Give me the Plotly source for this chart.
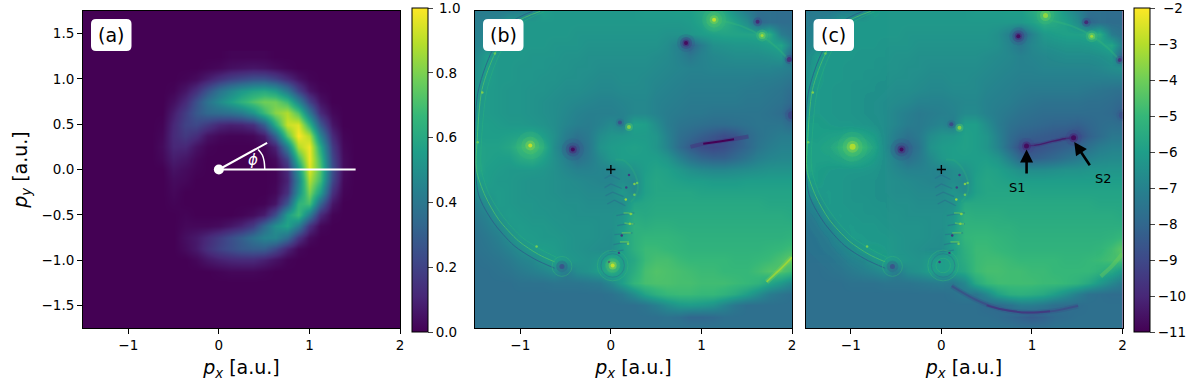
import plotly.graph_objects as go

# ---------- data ----------
a_x = [-0.75,-0.625,-0.5,-0.375,-0.25,-0.125,0,0.125,0.25,0.375,0.5,0.625,0.75,0.875,1,1.125,1.25,1.375,1.5]
a_y = [1.25,1.125,1,0.875,0.75,0.625,0.5,0.375,0.25,0.125,0,-0.125,-0.25,-0.375,-0.5,-0.625,-0.75,-0.875,-1,-1.125,-1.25]
a_z = [
[0,0,0,0,0,0,0,.01,.01,.01,.01,0,0,0,0,0,0,0,0],
[0,0,0,0,0,.01,.02,.04,.05,.06,.05,.03,.01,0,0,0,0,0,0],
[0,0,0,.01,.03,.08,.14,.19,.22,.25,.25,.2,.12,.05,.01,0,0,0,0],
[0,0,.01,.06,.14,.26,.38,.46,.53,.58,.6,.55,.4,.2,.06,.01,0,0,0],
[0,0,.04,.12,.25,.38,.48,.56,.64,.72,.78,.78,.68,.45,.2,.05,0,0,0],
[0,0,.08,.18,.28,.34,.36,.38,.42,.52,.68,.82,.88,.72,.4,.12,.02,0,0],
[0,.01,.11,.2,.22,.17,.11,.09,.1,.14,.3,.62,.92,.95,.65,.28,.06,0,0],
[0,.02,.12,.17,.13,.05,.02,.01,.01,.02,.08,.32,.74,1,.88,.45,.12,.01,0],
[0,.03,.11,.11,.05,.01,0,0,0,0,.01,.1,.44,.88,.98,.6,.18,.02,0],
[0,.02,.08,.06,.02,0,0,0,0,0,0,.03,.22,.68,.98,.68,.22,.03,0],
[0,0,.05,.03,.01,0,0,0,0,0,0,.01,.12,.52,.95,.72,.25,.03,0],
[0,0,.03,.02,0,0,0,0,0,0,0,.01,.1,.45,.88,.68,.22,.02,0],
[0,0,.02,0,0,0,0,0,0,0,0,.02,.14,.5,.8,.55,.14,.01,0],
[0,0,.01,0,0,0,0,0,0,0,.01,.06,.28,.65,.7,.32,.06,0,0],
[0,0,0,.01,0,0,0,0,.01,.03,.08,.24,.55,.68,.42,.12,.01,0,0],
[0,0,0,.02,.02,.02,.03,.06,.1,.18,.34,.5,.58,.42,.15,.02,0,0,0],
[0,0,0,.04,.07,.12,.18,.24,.3,.38,.45,.46,.35,.15,.03,0,0,0,0],
[0,0,0,.03,.07,.14,.2,.24,.28,.3,.3,.22,.1,.02,0,0,0,0,0],
[0,0,0,0,.02,.06,.09,.11,.12,.12,.09,.05,.01,0,0,0,0,0,0],
[0,0,0,0,0,0,.01,.02,.02,.02,.01,0,0,0,0,0,0,0,0],
[0,0,0,0,0,0,0,0,0,0,0,0,0,0,0,0,0,0,0],
]

grid_x = [-1.5,-1.375,-1.25,-1.125,-1,-0.875,-0.75,-0.625,-0.5,-0.375,-0.25,-0.125,0,0.125,0.25,0.375,0.5,0.625,0.75,0.875,1,1.125,1.25,1.375,1.5,1.625,1.75,1.875,2]
grid_y = [1.75,1.625,1.5,1.375,1.25,1.125,1,0.875,0.75,0.625,0.5,0.375,0.25,0.125,0,-0.125,-0.25,-0.375,-0.5,-0.625,-0.75,-0.875,-1,-1.125,-1.25,-1.375,-1.5,-1.625,-1.75]

b_z = [
[-7.3,-7.2,-7.2,-7.1,-7,-6.8,-6,-6.2,-6.2,-6.2,-6.2,-6.2,-6.2,-6.2,-6.2,-6.1,-6.1,-6.1,-6,-6,-5.7,-5.4,-5.7,-6.5,-7.2,-7.7,-7.7,-7.8,-7.8],
[-7.2,-7.1,-7,-6.3,-6.2,-6.2,-6.2,-6.2,-6.2,-6.2,-6.2,-6.2,-6.2,-6.2,-6.2,-6.2,-6.2,-6.2,-6.2,-6.1,-5.8,-4.9,-5.3,-5.9,-6.6,-8,-7.7,-7.8,-7.8],
[-7.1,-6.9,-6.3,-6.2,-6.2,-6.2,-6.2,-6.2,-6.2,-6.3,-6.3,-6.3,-6.3,-6.3,-6.3,-6.3,-6.3,-6.4,-6.4,-6.3,-6.1,-5.9,-5.8,-5.8,-5.8,-5.7,-5.4,-7.2,-7.6],
[-7,-6.7,-6.2,-6.2,-6.2,-6.2,-6.2,-6.3,-6.3,-6.3,-6.4,-6.4,-6.4,-6.4,-6.4,-6.4,-6.4,-6.6,-7.1,-8.2,-7.2,-6.5,-6.4,-6.3,-6.3,-6.2,-6,-5.8,-7.2],
[-6.8,-6.1,-6.2,-6.2,-6.2,-6.3,-6.3,-6.3,-6.4,-6.4,-6.5,-6.5,-6.5,-6.5,-6.5,-6.5,-6.6,-6.7,-7,-7.4,-7,-6.8,-6.7,-6.6,-6.6,-6.6,-6.5,-6.3,-8.4],
[-6.6,-6,-6.2,-6.2,-6.3,-6.3,-6.3,-6.4,-6.4,-6.5,-6.5,-6.6,-6.6,-6.6,-6.6,-6.6,-6.7,-6.8,-6.9,-7,-7,-6.9,-6.9,-6.9,-6.9,-6.9,-6.9,-7,-7.2],
[-6.5,-6,-6.2,-6.2,-6.3,-6.3,-6.4,-6.4,-6.5,-6.5,-6.6,-6.7,-6.7,-6.6,-6.6,-6.7,-6.8,-6.9,-7,-7.1,-7.1,-7.1,-7.1,-7.1,-7.1,-7.2,-7.2,-7.3,-7.5],
[-6.4,-6.1,-6.2,-6.3,-6.3,-6.4,-6.4,-6.5,-6.6,-6.6,-6.7,-6.8,-6.8,-6.7,-6.7,-6.7,-6.9,-7,-7.1,-7.2,-7.2,-7.2,-7.2,-7.2,-7.3,-7.3,-7.4,-7.5,-7.8],
[-6.3,-6.1,-6.2,-6.3,-6.3,-6.4,-6.5,-6.6,-6.7,-6.8,-6.9,-7,-7,-6.9,-6.8,-6.8,-7,-7.1,-7.2,-7.3,-7.3,-7.3,-7.3,-7.3,-7.4,-7.4,-7.5,-7.6,-8],
[-6.2,-6.1,-6.2,-6.3,-6.3,-6.4,-6.5,-6.6,-6.8,-7,-7.1,-7.1,-7.1,-7,-6.8,-6.8,-7,-7.2,-7.3,-7.4,-7.4,-7.5,-7.5,-7.5,-7.5,-7.5,-7.6,-7.8,-8.6],
[-6,-6,-6.1,-6.2,-6.2,-6.3,-6.4,-6.6,-6.9,-7.1,-7.2,-7,-6.7,-7.1,-5.9,-6,-6.6,-7.2,-7.5,-7.6,-7.7,-7.8,-7.8,-7.7,-7.6,-7.5,-7.5,-7.5,-7.9],
[-6,-6,-6,-5.9,-5.8,-5.6,-6,-6.5,-7.2,-7.6,-7.3,-6.6,-6.3,-6.2,-6.1,-6.1,-6.3,-7,-7.7,-8,-8.3,-8.6,-8.9,-8.7,-8,-7.6,-7.4,-7.2,-7.2],
[-5.8,-5.9,-5.9,-5.7,-5.1,-4.6,-5.4,-6.6,-7.5,-8.1,-7.4,-6.4,-6.1,-6,-5.9,-6,-6.3,-6.9,-7.8,-8.4,-8.8,-9,-8.8,-8.4,-8,-7.5,-7.2,-7,-7],
[-5.8,-5.9,-6,-6,-5.6,-5.4,-5.9,-6.5,-7.1,-7.7,-7.3,-6.7,-6.2,-6,-6,-6,-6,-6.3,-7,-7.6,-8,-8.2,-8.2,-7.9,-7.5,-7.1,-6.9,-6.8,-6.8],
[-5.6,-6,-6.1,-6.2,-6.2,-6.2,-6.3,-6.5,-6.8,-7,-7,-6.9,-7,-6.6,-6.4,-6,-5.8,-5.9,-6.2,-6.5,-6.7,-6.8,-6.8,-6.7,-6.6,-6.5,-6.4,-6.4,-6.4],
[-6.2,-6,-6.2,-6.2,-6.3,-6.4,-6.4,-6.5,-6.6,-6.7,-6.8,-6.9,-6.9,-6.6,-6.8,-5.9,-5.7,-5.8,-5.9,-6,-6,-6.1,-6.1,-6.1,-6,-6,-6,-6,-6],
[-6.6,-6.2,-6.1,-6.2,-6.3,-6.4,-6.4,-6.5,-6.6,-6.6,-6.7,-6.7,-6.7,-6.2,-6.7,-5.9,-5.7,-5.7,-5.7,-5.7,-5.8,-5.8,-5.8,-5.8,-5.8,-5.8,-5.8,-5.8,-5.8],
[-7.1,-6.6,-6.1,-6.2,-6.3,-6.3,-6.4,-6.4,-6.5,-6.5,-6.6,-6.6,-6.6,-6.6,-5.8,-5.7,-5.6,-5.6,-5.6,-5.6,-5.6,-5.6,-5.6,-5.6,-5.6,-5.6,-5.7,-5.7,-5.7],
[-7.3,-7,-6.3,-6.1,-6.2,-6.3,-6.3,-6.4,-6.4,-6.5,-6.5,-6.5,-6.5,-6.3,-5.5,-5.6,-5.5,-5.5,-5.5,-5.5,-5.5,-5.5,-5.5,-5.5,-5.5,-5.5,-5.5,-5.5,-5.6],
[-7.5,-7.2,-6.8,-6.2,-6.1,-6.2,-6.2,-6.3,-6.4,-6.4,-6.4,-6.5,-6.5,-6.2,-5.3,-5.4,-5.3,-5.3,-5.4,-5.4,-5.4,-5.4,-5.4,-5.4,-5.4,-5.4,-5.4,-5.4,-5.4],
[-7.6,-7.4,-7.1,-6.6,-6.1,-6.1,-6.2,-6.2,-6.3,-6.4,-6.4,-6.5,-6.6,-5.9,-5.3,-5.1,-5.1,-5.1,-5.2,-5.3,-5.3,-5.3,-5.3,-5.3,-5.3,-5.3,-5.3,-5.3,-5.2],
[-7.6,-7.5,-7.3,-7,-6.6,-6.1,-6,-6.1,-6.3,-6.4,-6.5,-6.6,-6.6,-6,-5.3,-4.9,-4.9,-5,-5.1,-5.2,-5.2,-5.2,-5.2,-5.2,-5.2,-5.2,-5.1,-5,-4.8],
[-7.7,-7.6,-7.5,-7.3,-7,-6.8,-6.3,-6,-6.2,-6.3,-6.4,-6.2,-5.4,-6,-5.6,-4.9,-4.7,-4.7,-4.9,-5,-5,-5,-5,-5.1,-5.1,-5,-4.9,-4.6,-4.2],
[-7.7,-7.7,-7.6,-7.5,-7.3,-7.1,-6.9,-6.6,-7.2,-6.6,-6.4,-6,-5.4,-6,-5.4,-4.7,-4.5,-4.6,-4.7,-4.8,-4.9,-4.9,-5,-5,-5,-4.8,-4.5,-4.5,-4.9],
[-7.7,-7.7,-7.7,-7.7,-7.6,-7.6,-7.6,-7.5,-7.5,-7.5,-7.4,-7.3,-6.8,-6,-5.1,-4.7,-4.6,-4.6,-4.7,-4.7,-4.8,-4.8,-4.8,-4.9,-5,-5.2,-5.7,-6.2,-6.8],
[-7.7,-7.7,-7.7,-7.7,-7.7,-7.7,-7.7,-7.7,-7.7,-7.7,-7.7,-7.7,-7.6,-7.3,-6.6,-5.8,-5.3,-5,-4.9,-4.9,-5,-5,-5.2,-5.5,-6,-6.6,-7.2,-7.5,-7.7],
[-7.7,-7.7,-7.7,-7.7,-7.7,-7.7,-7.7,-7.7,-7.7,-7.7,-7.7,-7.7,-7.7,-7.7,-7.7,-7.5,-7.1,-6.6,-6.2,-6.1,-6.2,-6.4,-6.9,-7.4,-7.7,-7.7,-7.7,-7.7,-7.7],
[-7.7,-7.7,-7.7,-7.7,-7.7,-7.7,-7.7,-7.7,-7.7,-7.7,-7.7,-7.7,-7.7,-7.7,-7.7,-7.7,-7.7,-7.6,-7.7,-8,-8,-7.9,-7.7,-7.7,-7.7,-7.7,-7.7,-7.7,-7.7],
[-7.6,-7.6,-7.6,-7.6,-7.6,-7.6,-7.6,-7.6,-7.6,-7.6,-7.6,-7.6,-7.6,-7.6,-7.6,-7.6,-7.6,-7.6,-7.6,-7.6,-7.6,-7.6,-7.6,-7.6,-7.6,-7.6,-7.6,-7.6,-7.6],
]

c_z = [
[-7.3,-7.2,-7.2,-7.1,-7,-6.8,-6,-6.2,-6.2,-6.2,-6.2,-6.2,-6.2,-6.2,-6.2,-6.1,-6.1,-6.1,-6,-6,-5.6,-5,-5.5,-6.3,-7,-7.7,-7.7,-7.8,-7.8],
[-7.2,-7.1,-7,-6.3,-6.2,-6.2,-6.2,-6.2,-6.2,-6.2,-6.2,-6.2,-6.2,-6.2,-6.2,-6.2,-6.2,-6.2,-6.2,-6.2,-5.9,-5.4,-5.6,-5.9,-6.6,-8,-7.7,-7.8,-7.8],
[-7.1,-6.9,-6.3,-6.2,-6.2,-6.2,-6.2,-6.2,-6.2,-6.3,-6.3,-6.3,-6.3,-6.3,-6.3,-6.3,-6.3,-6.5,-7.1,-8.2,-7,-6.2,-6,-5.9,-5.9,-5.7,-5.4,-7.2,-7.6],
[-7,-6.7,-6.2,-6.2,-6.2,-6.2,-6.2,-6.3,-6.3,-6.3,-6.4,-6.4,-6.4,-6.4,-6.4,-6.4,-6.4,-6.5,-6.9,-7.4,-6.8,-6.5,-6.4,-6.3,-6.3,-6.2,-6,-5.7,-7.2],
[-6.8,-6.1,-6.2,-6.2,-6.2,-6.3,-6.3,-6.3,-6.4,-6.4,-6.5,-6.5,-6.5,-6.5,-6.5,-6.5,-6.6,-6.7,-6.8,-7,-6.9,-6.8,-6.7,-6.6,-6.6,-6.6,-6.5,-6.3,-8.2],
[-6.6,-6,-6.2,-6.2,-6.3,-6.3,-6.3,-6.4,-6.4,-6.5,-6.5,-6.6,-6.6,-6.6,-6.6,-6.6,-6.7,-6.8,-6.9,-7,-7,-6.9,-6.9,-6.9,-6.9,-6.9,-6.8,-6.6,-6.5],
[-6.5,-6,-6.2,-6.2,-6.3,-6.3,-6.4,-6.4,-6.5,-6.5,-6.6,-6.7,-6.7,-6.6,-6.6,-6.7,-6.8,-6.9,-7,-7.1,-7.1,-7.1,-7.1,-7.1,-7.1,-7.1,-7.1,-7.1,-7.1],
[-6.4,-6.1,-6.2,-6.3,-6.3,-6.4,-6.4,-6.5,-6.6,-6.6,-6.7,-6.8,-6.8,-6.7,-6.7,-6.7,-6.9,-7,-7.1,-7.2,-7.3,-7.3,-7.3,-7.3,-7.3,-7.4,-7.5,-7.6,-7.7],
[-6.3,-6.1,-6.2,-6.3,-6.3,-6.4,-6.5,-6.6,-6.7,-6.8,-7,-7,-7,-6.9,-6.8,-6.8,-7,-7.1,-7.2,-7.4,-7.5,-7.6,-7.6,-7.6,-7.6,-7.7,-7.7,-7.8,-8],
[-6.2,-6.1,-6.2,-6.3,-6.3,-6.4,-6.5,-6.6,-6.9,-7.1,-7.3,-7.2,-7.1,-7,-6.7,-6.7,-7,-7.2,-7.4,-7.6,-7.7,-7.8,-7.8,-7.8,-7.8,-7.8,-7.8,-7.9,-8.3],
[-6,-6,-6.1,-6.2,-6.2,-6.3,-6.4,-6.6,-6.9,-7.2,-7.3,-7.1,-6.9,-7.2,-6,-6,-6.6,-7.2,-7.6,-7.8,-7.9,-8,-8.1,-8.1,-8.2,-8,-7.8,-7.7,-7.8],
[-6,-6,-5.9,-5.8,-5.6,-5.7,-6,-6.6,-7.2,-7.6,-7.3,-6.6,-6.3,-6.2,-5.9,-6,-6.3,-7,-7.8,-8.2,-8.3,-8.4,-8.5,-8.6,-8.9,-8.2,-7.8,-7.4,-7.4],
[-5.8,-5.9,-5.7,-5.2,-4.5,-5,-5.7,-6.6,-7.5,-8.1,-7.5,-6.4,-6.1,-6,-5.9,-6,-6.3,-6.9,-7.9,-8.8,-8.8,-8.6,-8.4,-8.2,-8,-7.6,-7.2,-7,-7],
[-5.8,-5.9,-5.9,-5.7,-5.4,-5.7,-6,-6.5,-7.1,-7.7,-7.3,-6.7,-6.2,-6,-6,-6,-6,-6.3,-7.1,-8,-8.3,-8.1,-7.9,-7.6,-7.3,-7,-6.8,-6.7,-6.7],
[-5.6,-6,-6.1,-6.2,-6.2,-6.2,-6.3,-6.5,-6.8,-7,-7,-6.9,-7,-6.6,-6.4,-6,-5.8,-5.9,-6.2,-6.5,-6.6,-6.6,-6.5,-6.4,-6.4,-6.3,-6.3,-6.3,-6.3],
[-6.2,-6,-6.2,-6.2,-6.3,-6.4,-6.4,-6.5,-6.6,-6.7,-6.8,-6.9,-6.9,-6.6,-6.8,-5.9,-5.7,-5.8,-5.9,-6,-6,-6,-6,-6,-6,-6,-6,-6,-6],
[-6.6,-6.2,-6.1,-6.2,-6.3,-6.4,-6.4,-6.5,-6.6,-6.6,-6.7,-6.7,-6.7,-6.3,-6.6,-5.9,-5.7,-5.7,-5.7,-5.7,-5.8,-5.8,-5.8,-5.8,-5.8,-5.8,-5.8,-5.8,-5.8],
[-7.1,-6.6,-6.1,-6.2,-6.3,-6.3,-6.4,-6.4,-6.5,-6.5,-6.6,-6.6,-6.6,-6.5,-5.6,-5.6,-5.6,-5.6,-5.6,-5.6,-5.6,-5.6,-5.6,-5.6,-5.6,-5.6,-5.7,-5.7,-5.7],
[-7.3,-7,-6.3,-6.1,-6.2,-6.3,-6.3,-6.4,-6.4,-6.5,-6.5,-6.5,-6.5,-6.3,-5.3,-5.4,-5.4,-5.4,-5.5,-5.5,-5.5,-5.5,-5.5,-5.5,-5.5,-5.5,-5.5,-5.5,-5.6],
[-7.5,-7.2,-6.8,-6.2,-6.1,-6.2,-6.2,-6.3,-6.4,-6.4,-6.4,-6.5,-6.5,-6.2,-5.2,-5.2,-5.2,-5.3,-5.3,-5.4,-5.4,-5.4,-5.4,-5.4,-5.4,-5.4,-5.4,-5.4,-5.4],
[-7.6,-7.4,-7.1,-6.6,-6.1,-6.1,-6.2,-6.2,-6.3,-6.4,-6.4,-6.5,-6.6,-5.9,-5.1,-5,-5,-5.1,-5.2,-5.3,-5.3,-5.3,-5.3,-5.3,-5.3,-5.3,-5.3,-5.2,-5],
[-7.6,-7.5,-7.3,-7,-6.6,-6.1,-6,-6.1,-6.3,-6.4,-6.5,-6.6,-6.6,-6,-5.3,-4.9,-4.9,-5,-5.1,-5.2,-5.2,-5.2,-5.2,-5.2,-5.2,-5.2,-5.1,-4.8,-4.3],
[-7.7,-7.6,-7.5,-7.3,-7,-6.8,-6.3,-6,-6.2,-6.3,-6.4,-6.1,-6,-5.9,-5.4,-4.9,-4.8,-4.8,-4.9,-5,-5,-5,-5,-5.1,-5.1,-5,-4.9,-4.7,-4.7],
[-7.7,-7.7,-7.6,-7.5,-7.3,-7.1,-6.9,-6.6,-7.2,-6.6,-6.4,-6,-6,-5.9,-5.6,-4.9,-4.7,-4.7,-4.8,-4.8,-4.9,-4.9,-5,-5,-5,-5,-5.2,-5.6,-6.2],
[-7.7,-7.7,-7.7,-7.7,-7.6,-7.6,-7.6,-7.5,-7.5,-7.5,-7.4,-7.3,-7.2,-7.4,-6.8,-5.6,-5,-4.8,-4.8,-4.8,-4.8,-4.9,-4.9,-5,-5.2,-5.6,-6.2,-6.8,-7.3],
[-7.7,-7.7,-7.7,-7.7,-7.7,-7.7,-7.7,-7.7,-7.7,-7.7,-7.7,-7.7,-7.7,-7.6,-7.4,-7.5,-6.8,-5.9,-5.4,-5.3,-5.4,-5.6,-6,-6.5,-7.1,-7.6,-7.7,-7.8,-7.8],
[-7.7,-7.7,-7.7,-7.7,-7.7,-7.7,-7.7,-7.7,-7.7,-7.7,-7.7,-7.7,-7.7,-7.7,-7.7,-7.7,-7.9,-7.9,-7.6,-7.2,-7.2,-7.4,-7.7,-7.8,-7.8,-7.7,-7.7,-7.7,-7.7],
[-7.7,-7.7,-7.7,-7.7,-7.7,-7.7,-7.7,-7.7,-7.7,-7.7,-7.7,-7.7,-7.7,-7.7,-7.7,-7.7,-7.7,-7.8,-8,-8.2,-8.4,-8.2,-7.9,-7.8,-7.7,-7.7,-7.7,-7.7,-7.7],
[-7.6,-7.6,-7.6,-7.6,-7.6,-7.6,-7.6,-7.6,-7.6,-7.6,-7.6,-7.6,-7.6,-7.6,-7.6,-7.6,-7.6,-7.6,-7.6,-7.7,-7.7,-7.7,-7.6,-7.6,-7.6,-7.6,-7.6,-7.6,-7.6],
]

# compact peaks on top of the smooth field, graded from soft halo to sharp core
b_spot_x = [-0.89,-0.89,-0.89,-0.89, 1.14,1.14,1.14,1.14, 0.02,0.02,0.02, -0.42,-0.42,-0.42,-0.42, 0.83,0.83,0.83,0.83, 1.62,1.62, 1.67,1.67,1.67, 1.97,1.97, 0.2,0.2, 0.1,0.1, 2.0,2.0, -0.54,-0.54]
b_spot_y = [0.265,0.265,0.265,0.265, 1.654,1.654,1.654,1.654, -1.06,-1.06,-1.06, 0.22,0.22,0.22,0.22, 1.397,1.397,1.397,1.397, 1.63,1.63, 1.48,1.48,1.48, 1.215,1.215, 0.47,0.47, 0.52,0.52, 0.6,0.6, -1.07,-1.07]
b_spot_v = [-4.8,-4.4,-3.8,-2.8, -4.8,-4.4,-3.8,-2.8, -4.4,-3.6,-2.8, -8.5,-9.2,-10,-10.8, -8.5,-9.3,-10,-10.8, -9,-10.2, -4.8,-4,-3.2, -9,-10, -4.6,-3.6, -8,-9, -8.6,-9.4, -8,-9]
b_spot_s = [28,18,10,4, 24,16,9,4, 14,8,4, 22,14,8,4, 18,12,7,4, 9,4, 12,7,3, 9,5, 8,4, 8,4, 14,8, 10,5]
b_spot_o = [.2,.3,.5,.95, .2,.3,.5,.95, .35,.6,.95, .25,.35,.55,.9, .25,.4,.6,.9, .4,.8, .4,.6,.9, .4,.8, .5,.9, .4,.8, .4,.5, .5,.7]
c_spot_x = [-0.98,-0.98,-0.98,-0.98, 1.15,1.15,1.15, -0.44,-0.44,-0.44,-0.44, 0.85,0.85,0.85,0.85, 0.94,0.94,0.94, 1.46,1.46,1.46, 1.6,1.6, 1.66,1.66,1.66, 1.97,1.97, 0.2,0.2, 0.11,0.11, 2.0,2.0, -0.54,-0.54]
c_spot_y = [0.25,0.25,0.25,0.25, 1.7,1.7,1.7, 0.22,0.22,0.22,0.22, 1.47,1.47,1.47,1.47, 0.26,0.26,0.26, 0.35,0.35,0.35, 1.625,1.625, 1.47,1.47,1.47, 1.21,1.21, 0.46,0.46, 0.5,0.5, 0.6,0.6, -1.07,-1.07]
c_spot_v = [-4.8,-4.3,-3.7,-3, -4.8,-4.2,-3.4, -8.5,-9.2,-10,-10.8, -8.5,-9.3,-10,-10.8, -9,-10,-10.8, -9,-10,-10.8, -9,-10.2, -4.8,-4,-3.2, -9,-10, -4.6,-3.6, -8.2,-9.2, -8.4,-9, -8,-9]
c_spot_s = [30,20,12,6, 18,11,5, 22,14,8,4, 18,12,7,4, 16,9,5, 16,9,5, 9,4, 12,7,3, 8,4, 8,4, 8,4, 12,7, 10,5]
c_spot_o = [.2,.3,.5,.9, .3,.5,.85, .25,.35,.55,.9, .25,.4,.6,.9, .35,.6,.9, .35,.6,.9, .4,.8, .4,.6,.9, .4,.8, .5,.9, .4,.8, .4,.5, .5,.7]

# fine dots in the fringe region and along the big ring
dots_x = [0.165,0.22,0.21,0.12,0.17,0.26,0.19,0.09,0.2,-0.02,0.29,0.26,-1.42,-1.28,-0.82,-1.47]
dots_y = [-0.33,-0.49,-0.6,-0.73,-0.2,-0.16,-0.82,-0.92,-0.06,-1.02,-0.15,-0.28,0.85,1.28,-0.85,0.3]
dots_v = [-3.2,-3.6,-3.6,-10,-9.4,-3.6,-3.8,-9.6,-9.5,-9.8,-4,-4,-3.6,-4,-3.8,-4]

# thin dark or bright streaks
b_streak_x = [0.88,1.0,1.2,1.35,1.52]
b_streak_y = [0.25,0.28,0.31,0.335,0.365]
b_core_x = [1.02,1.2,1.36]
b_core_y = [0.285,0.31,0.335]
c_streak_x = [0.94,1.08,1.22,1.36,1.46]
c_streak_y = [0.26,0.275,0.31,0.34,0.35]
c_bottom_x = [0.114,0.371,0.665,0.96,1.25,1.51]
c_bottom_y = [-1.287,-1.434,-1.544,-1.58,-1.56,-1.507]
c_bottom_core_x = [0.5,0.665,0.96,1.2]
c_bottom_core_y = [-1.5,-1.544,-1.58,-1.565]
b_edge_x = [1.72,1.85,2.0]
b_edge_y = [-1.24,-1.12,-0.97]
c_edge_x = [1.76,1.88,2.0]
c_edge_y = [-1.18,-1.07,-0.93]
top_arc_x = [1.2,1.45,1.67,1.85,2.0]
top_arc_y = [1.65,1.58,1.47,1.33,1.17]

# outer fringes of the big circle
ring_light_x = [-0.78,-1.055,-1.276,-1.423,-1.478,-1.485,-1.386,-1.239,-1.018,-0.798,-0.62]
ring_light_y = [1.746,1.618,1.287,0.882,0.294,0,-0.294,-0.551,-0.79,-0.938,-1.02]
ring_dark_x = [-0.86,-1.11,-1.33,-1.47,-1.5,-1.46,-1.3,-1.07,-0.84,-0.62]
ring_dark_y = [1.75,1.62,1.27,0.84,0.2,-0.28,-0.58,-0.84,-0.99,-1.09]
ring_inner_x = [-0.74,-1.01,-1.23,-1.37,-1.43,-1.43,-1.34,-1.19,-0.98,-0.76,-0.6]
ring_inner_y = [1.74,1.6,1.27,0.87,0.29,0,-0.28,-0.52,-0.75,-0.89,-0.97]

# interference fringes near the lower loop
fringe_x = [-0.07,0.0,0.1,None,-0.07,0.0,0.12,None,-0.06,0.02,0.14,None,-0.04,0.04,0.16,None,
            0.06,0.16,0.26,None,0.07,0.17,0.26,None,0.04,0.14,0.24,None,0.03,0.12,0.2,None,-0.02,0.06,0.14]
fringe_y = [-0.1,-0.06,-0.11,None,-0.2,-0.16,-0.21,None,-0.29,-0.25,-0.3,None,-0.38,-0.34,-0.4,None,
            -0.51,-0.49,-0.48,None,-0.62,-0.6,-0.6,None,-0.72,-0.71,-0.7,None,-0.83,-0.81,-0.81,None,-0.9,-0.9,-0.89]
fringe_light_x = [0.14,0.19,0.24,None,0.15,0.2,0.25,None,0.12,0.17,0.22,None,0.1,0.14,0.2]
fringe_light_y = [-0.48,-0.48,-0.49,None,-0.59,-0.6,-0.6,None,-0.7,-0.7,-0.7,None,-0.8,-0.8,-0.8]
loop_x = [0.05,0.14,0.22,0.27,0.3,0.28,0.22]
loop_y = [0.11,0.1,0.03,-0.06,-0.17,-0.28,-0.36]

spot_rings_x = [0.02,0.02,0.02,-0.54,-0.54]
spot_rings_y = [-1.06,-1.06,-1.06,-1.07,-1.07]
spot_rings_r = [0.08,0.13,0.17,0.06,0.11]

phi_arc_x = [0.507,0.5,0.48,0.434]
phi_arc_y = [0,0.09,0.16,0.22]
phi_ray_x = [0,0.533]
phi_ray_y = [0,0.294]
axis_ray_x = [0,1.51]
axis_ray_y = [0,0]

panel_labels = ["(a)", "(b)", "(c)"]
x_ticks = [-1, 0, 1, 2]
y_ticks = [-1.5, -1, -0.5, 0, 0.5, 1, 1.5]
cb_a_ticks = [0, 0.2, 0.4, 0.6, 0.8, 1]
cb_c_ticks = [-2, -3, -4, -5, -6, -7, -8, -9, -10, -11]

# ---------- layout constants ----------
W, H = 1190, 384
FONT = "DejaVu Sans"
top, bottom = 11, 328
panels = [(83, 400), (475, 792), (805.5, 1122.5)]
ydom = [1 - bottom / H, 1 - top / H]
CB_Y = 1 - 170 / H

fig = go.Figure()
fig.add_trace(go.Heatmap(x=a_x, y=a_y, z=a_z, zmin=0, zmax=1, zsmooth="best", colorscale="Viridis",
    xaxis="x", yaxis="y", hoverinfo="skip",
    colorbar=dict(x=412.3 / W, xanchor="left", xpad=0, y=CB_Y, yanchor="middle", ypad=0, lenmode="pixels", len=324,
                  thicknessmode="pixels", thickness=15.5, outlinecolor="black", outlinewidth=1,
                  tickvals=cb_a_ticks, ticktext=["0.0","0.2","0.4","0.6","0.8","1.0"], ticks="outside", ticklen=5, tickwidth=1,
                  tickfont=dict(family=FONT, size=13.5, color="black"))))
fig.add_trace(go.Heatmap(x=grid_x, y=grid_y, z=b_z, zmin=-11, zmax=-2, zsmooth="best", colorscale="Viridis",
    xaxis="x2", yaxis="y2", showscale=False, hoverinfo="skip"))
fig.add_trace(go.Heatmap(x=grid_x, y=grid_y, z=c_z, zmin=-11, zmax=-2, zsmooth="best", colorscale="Viridis",
    xaxis="x3", yaxis="y3", hoverinfo="skip",
    colorbar=dict(x=1134.3 / W, xanchor="left", xpad=0, y=CB_Y, yanchor="middle", ypad=0, lenmode="pixels", len=324,
                  thicknessmode="pixels", thickness=16, outlinecolor="black", outlinewidth=1,
                  tickvals=cb_c_ticks, ticks="outside", ticklen=5, tickwidth=1,
                  tickfont=dict(family=FONT, size=13.5, color="black"))))

def line(xs, ys, ax, color, width, opacity=1.0, spline=True):
    fig.add_trace(go.Scatter(x=xs, y=ys, xaxis=ax[0], yaxis=ax[1], mode="lines", showlegend=False,
                             hoverinfo="skip", opacity=opacity,
                             line=dict(color=color, width=width, shape="spline" if spline else "linear", smoothing=0.8)))

def spots(xs, ys, vs, ss, os, ax):
    fig.add_trace(go.Scatter(x=xs, y=ys, xaxis=ax[0], yaxis=ax[1], mode="markers", showlegend=False,
                             hoverinfo="skip",
                             marker=dict(color=vs, size=ss, opacity=os, cmin=-11, cmax=-2, colorscale="Viridis", line=dict(width=0))))

# panel (a) overlay
for xs, ys in [(axis_ray_x, axis_ray_y), (phi_ray_x, phi_ray_y)]:
    line(xs, ys, ("x", "y"), "white", 2, spline=False)
line(phi_arc_x, phi_arc_y, ("x", "y"), "white", 1.5)
fig.add_trace(go.Scatter(x=[0], y=[0], mode="markers", marker=dict(color="white", size=10), showlegend=False, hoverinfo="skip"))

# panels (b), (c) overlays
for ax in [("x2", "y2"), ("x3", "y3")]:
    line(ring_dark_x, ring_dark_y, ax, "#2f4f8b", 1, 0.6)
    line(ring_light_x, ring_light_y, ax, "#4fc36a", 1, 0.75)
    line(ring_inner_x, ring_inner_y, ax, "#28ae80", 1, 0.6)
    line(loop_x, loop_y, ax, "#2ca880", 2, 0.4)
    line(top_arc_x, top_arc_y, ax, "#35b779", 2, 0.35)
    fig.add_trace(go.Scatter(x=fringe_x, y=fringe_y, xaxis=ax[0], yaxis=ax[1], mode="lines", showlegend=False,
                             hoverinfo="skip", opacity=0.4, line=dict(color="#2c628e", width=1.2)))
    fig.add_trace(go.Scatter(x=fringe_light_x, y=fringe_light_y, xaxis=ax[0], yaxis=ax[1], mode="lines", showlegend=False,
                             hoverinfo="skip", opacity=0.6, line=dict(color="#6ccd5a", width=1.6)))
    spots(dots_x, dots_y, dots_v, [2.5] * len(dots_x), [0.9] * len(dots_x), ax)

bx, cx_ = ("x2", "y2"), ("x3", "y3")
line(b_edge_x, b_edge_y, bx, "#8fd744", 5, 0.3)
line(b_edge_x, b_edge_y, bx, "#bddf26", 1.8, 0.6)
line(b_streak_x, b_streak_y, bx, "#46327e", 4, 0.5)
line(b_core_x, b_core_y, bx, "#440154", 2, 1)
spots(b_spot_x, b_spot_y, b_spot_v, b_spot_s, b_spot_o, bx)
line(c_edge_x, c_edge_y, cx_, "#7ad151", 4, 0.35)
line(c_streak_x, c_streak_y, cx_, "#46327e", 4, 0.4)
line(c_streak_x, c_streak_y, cx_, "#471365", 1.4, 0.8)
line(c_bottom_x, c_bottom_y, cx_, "#3b528b", 5, 0.35)
line(c_bottom_x, c_bottom_y, cx_, "#433e85", 1.8, 0.5)
line(c_bottom_core_x, c_bottom_core_y, cx_, "#472d7b", 2, 0.6)
spots(c_spot_x, c_spot_y, c_spot_v, c_spot_s, c_spot_o, cx_)
for ax in [bx, cx_]:
    fig.add_trace(go.Scatter(x=[0], y=[0], xaxis=ax[0], yaxis=ax[1], mode="markers", showlegend=False, hoverinfo="skip",
                             marker=dict(symbol="cross-thin", size=6.5, line=dict(color="black", width=1.4))))

shapes = []
annotations = []
ux = 317 / 3.5
uy = 317 / 3.5
for i, name in enumerate(panel_labels):
    xr, yr = ("x", "y") if i == 0 else (f"x{i+1}", f"y{i+1}")
    for cx, cy, r in zip(spot_rings_x, spot_rings_y, spot_rings_r):
        if i:
            shapes.append(dict(type="circle", xref=xr, yref=yr, x0=cx - r, x1=cx + r, y0=cy - r, y1=cy + r,
                               line=dict(color="#35b779" if r in (0.08, 0.17, 0.11) else "#2f6c8e", width=1), opacity=0.45))
    x0, x1 = -1.5 + 8 / ux, -1.5 + 48.5 / ux
    y1, y0 = 1.75 - 8 / uy, 1.75 - 40 / uy
    rx, ry = 5 / ux, 5 / uy
    shapes.append(dict(type="path", xref=xr, yref=yr, fillcolor="white", line=dict(width=0),
        path=f"M{x0+rx},{y0} L{x1-rx},{y0} Q{x1},{y0} {x1},{y0+ry} L{x1},{y1-ry} Q{x1},{y1} {x1-rx},{y1} "
             f"L{x0+rx},{y1} Q{x0},{y1} {x0},{y1-ry} L{x0},{y0+ry} Q{x0},{y0} {x0+rx},{y0} Z"))
    annotations.append(dict(text=name, x=(x0 + x1) / 2, y=(y0 + y1) / 2, xref=xr, yref=yr, showarrow=False,
                            font=dict(family=FONT, size=19, color="black")))

annotations.append(dict(text="<i>ϕ</i>", x=0.38, y=0.11, xref="x", yref="y", showarrow=False,
                        font=dict(family=FONT, size=15, color="white")))
annotations.append(dict(text="S1", x=0.838, y=-0.2, xref="x3", yref="y3", showarrow=False,
                        font=dict(family=FONT, size=13, color="black")))
annotations.append(dict(text="S2", x=1.787, y=-0.1, xref="x3", yref="y3", showarrow=False,
                        font=dict(family=FONT, size=13, color="black")))
# labels at the very top of the colour bars
for txt, px in [("1.0", 437), ("−2", 1161)]:
    annotations.append(dict(text=txt, x=px / W, y=1 - 8 / H, xref="paper", yref="paper", xanchor="left", yanchor="middle",
                            showarrow=False, font=dict(family=FONT, size=13.5, color="black")))
for (tx, ty, fx, fy) in [(0.941, 0.22, 0.941, -0.06), (1.467, 0.305, 1.65, 0.03)]:
    annotations.append(dict(x=tx, y=ty, ax=fx, ay=fy, xref="x3", yref="y3", axref="x3", ayref="y3", text="",
                            showarrow=True, arrowhead=2, arrowsize=1, arrowwidth=2.6, arrowcolor="black"))

def axis(dom, anchor, **kw):
    d = dict(domain=[dom[0] / W, dom[1] / W] if anchor.startswith("y") else ydom, anchor=anchor, showline=True, mirror=True,
             linecolor="black", linewidth=1, showgrid=False, zeroline=False, ticks="outside", ticklen=5, tickwidth=1,
             tickcolor="black", tickfont=dict(family=FONT, size=13.5, color="black"), layer="above traces")
    d.update(kw)
    return d

xt = dict(text="<i>p<sub>x</sub></i> [a.u.]", font=dict(family=FONT, size=19, color="black"), standoff=8)
layout = dict(width=W, height=H, margin=dict(l=0, r=0, t=0, b=0, autoexpand=False), paper_bgcolor="white", plot_bgcolor="#440154",
              showlegend=False, shapes=shapes, annotations=annotations, font=dict(family=FONT))
for i, p in enumerate(panels):
    sx = "" if i == 0 else str(i + 1)
    layout["xaxis" + sx] = axis(p, "y" + sx, range=[-1.5, 2], tickvals=x_ticks, title=xt)
    if i == 0:
        layout["yaxis"] = axis(p, "x", range=[-1.75, 1.75], tickvals=y_ticks,
                               ticktext=["−1.5","−1.0","−0.5","0.0","0.5","1.0","1.5"],
                               title=dict(text="<i>p<sub>y</sub></i> [a.u.]", font=dict(family=FONT, size=19, color="black"), standoff=8))
    else:
        layout["yaxis" + sx] = axis(p, "x" + sx, range=[-1.75, 1.75], showticklabels=False, ticks="")
fig.update_layout(**layout)
fig.write_html("out.html", post_script="document.body.style.margin='0';", config={"displayModeBar": False})
